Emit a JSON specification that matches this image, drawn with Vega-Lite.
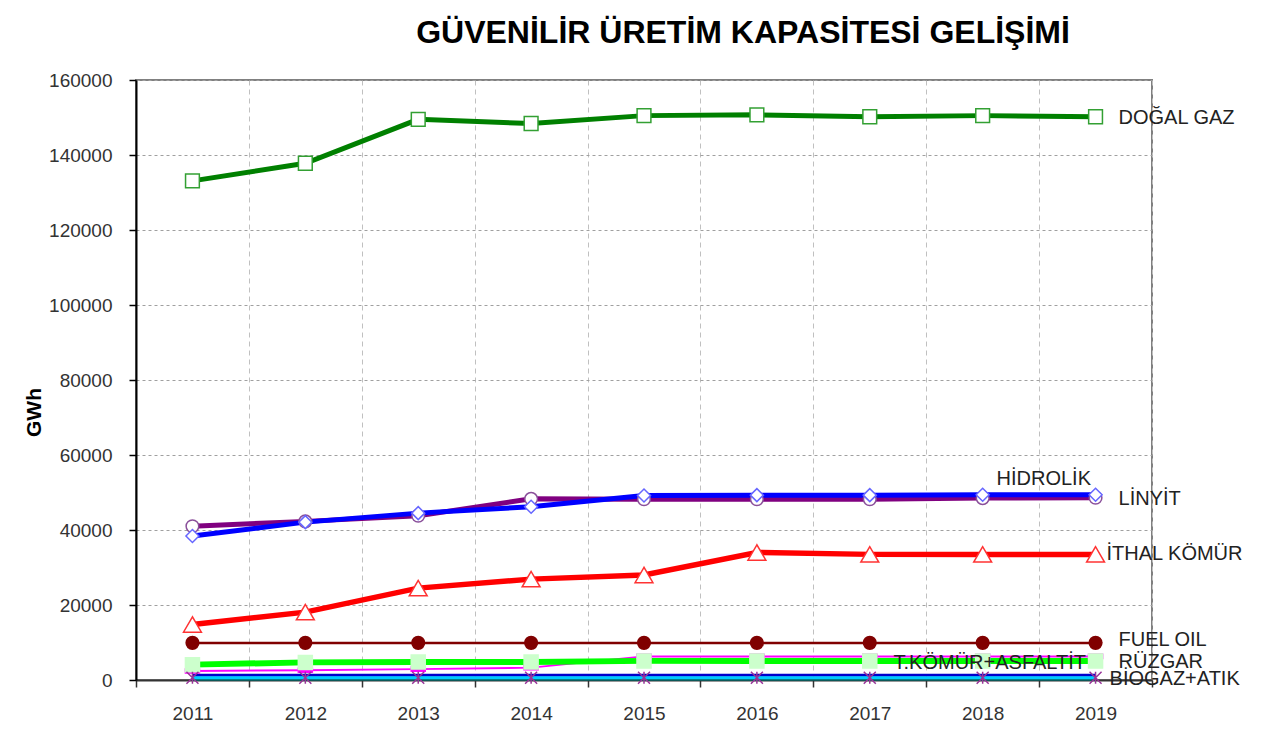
{
  "$schema": "https://vega.github.io/schema/vega-lite/v6.json",
  "width": 1016,
  "height": 600,
  "autosize": {"type": "none"},
  "padding": {"left": 136, "top": 80, "right": 111, "bottom": 73},
  "background": "white",
  "title": {
    "text": "GÜVENİLİR ÜRETİM KAPASİTESİ GELİŞİMİ",
    "font": "Liberation Sans",
    "fontSize": 32,
    "fontWeight": "bold",
    "color": "#000000",
    "anchor": "middle",
    "frame": "group",
    "dx": 99,
    "dy": 38,
    "offset": 34,
    "baseline": "alphabetic"
  },
  "config": {
    "font": "Liberation Sans",
    "view": {"stroke": "#808080", "strokeWidth": 2},
    "legend": {"disable": true}
  },
  "data": {
    "values": [
      {"year": 2011, "series": "FUEL OIL", "value": 9900},
      {"year": 2012, "series": "FUEL OIL", "value": 9900},
      {"year": 2013, "series": "FUEL OIL", "value": 9900},
      {"year": 2014, "series": "FUEL OIL", "value": 9900},
      {"year": 2015, "series": "FUEL OIL", "value": 9900},
      {"year": 2016, "series": "FUEL OIL", "value": 9900},
      {"year": 2017, "series": "FUEL OIL", "value": 9900},
      {"year": 2018, "series": "FUEL OIL", "value": 9900},
      {"year": 2019, "series": "FUEL OIL", "value": 9900},
      {"year": 2011, "series": "T.KÖMÜR+ASFALTİT", "value": 2400},
      {"year": 2012, "series": "T.KÖMÜR+ASFALTİT", "value": 2600},
      {"year": 2013, "series": "T.KÖMÜR+ASFALTİT", "value": 2900},
      {"year": 2014, "series": "T.KÖMÜR+ASFALTİT", "value": 3300},
      {"year": 2015, "series": "T.KÖMÜR+ASFALTİT", "value": 6300},
      {"year": 2016, "series": "T.KÖMÜR+ASFALTİT", "value": 6300},
      {"year": 2017, "series": "T.KÖMÜR+ASFALTİT", "value": 6300},
      {"year": 2018, "series": "T.KÖMÜR+ASFALTİT", "value": 6300},
      {"year": 2019, "series": "T.KÖMÜR+ASFALTİT", "value": 6300},
      {"year": 2011, "series": "RÜZGAR", "value": 4100},
      {"year": 2012, "series": "RÜZGAR", "value": 4700},
      {"year": 2013, "series": "RÜZGAR", "value": 4800},
      {"year": 2014, "series": "RÜZGAR", "value": 4800},
      {"year": 2015, "series": "RÜZGAR", "value": 5100},
      {"year": 2016, "series": "RÜZGAR", "value": 5100},
      {"year": 2017, "series": "RÜZGAR", "value": 5100},
      {"year": 2018, "series": "RÜZGAR", "value": 5100},
      {"year": 2019, "series": "RÜZGAR", "value": 5100},
      {"year": 2011, "series": "DİĞER", "value": 100},
      {"year": 2012, "series": "DİĞER", "value": 100},
      {"year": 2013, "series": "DİĞER", "value": 100},
      {"year": 2014, "series": "DİĞER", "value": 100},
      {"year": 2015, "series": "DİĞER", "value": 100},
      {"year": 2016, "series": "DİĞER", "value": 100},
      {"year": 2017, "series": "DİĞER", "value": 100},
      {"year": 2018, "series": "DİĞER", "value": 100},
      {"year": 2019, "series": "DİĞER", "value": 100},
      {"year": 2011, "series": "JEOTERMAL", "value": 1300},
      {"year": 2012, "series": "JEOTERMAL", "value": 1300},
      {"year": 2013, "series": "JEOTERMAL", "value": 1300},
      {"year": 2014, "series": "JEOTERMAL", "value": 1300},
      {"year": 2015, "series": "JEOTERMAL", "value": 1300},
      {"year": 2016, "series": "JEOTERMAL", "value": 1300},
      {"year": 2017, "series": "JEOTERMAL", "value": 1300},
      {"year": 2018, "series": "JEOTERMAL", "value": 1300},
      {"year": 2019, "series": "JEOTERMAL", "value": 1300},
      {"year": 2011, "series": "BİOGAZ+ATIK", "value": 600},
      {"year": 2012, "series": "BİOGAZ+ATIK", "value": 600},
      {"year": 2013, "series": "BİOGAZ+ATIK", "value": 600},
      {"year": 2014, "series": "BİOGAZ+ATIK", "value": 600},
      {"year": 2015, "series": "BİOGAZ+ATIK", "value": 600},
      {"year": 2016, "series": "BİOGAZ+ATIK", "value": 600},
      {"year": 2017, "series": "BİOGAZ+ATIK", "value": 600},
      {"year": 2018, "series": "BİOGAZ+ATIK", "value": 600},
      {"year": 2019, "series": "BİOGAZ+ATIK", "value": 600},
      {"year": 2011, "series": "İTHAL KÖMÜR", "value": 14800},
      {"year": 2012, "series": "İTHAL KÖMÜR", "value": 18100},
      {"year": 2013, "series": "İTHAL KÖMÜR", "value": 24500},
      {"year": 2014, "series": "İTHAL KÖMÜR", "value": 26900},
      {"year": 2015, "series": "İTHAL KÖMÜR", "value": 28000},
      {"year": 2016, "series": "İTHAL KÖMÜR", "value": 34000},
      {"year": 2017, "series": "İTHAL KÖMÜR", "value": 33500},
      {"year": 2018, "series": "İTHAL KÖMÜR", "value": 33500},
      {"year": 2019, "series": "İTHAL KÖMÜR", "value": 33500},
      {"year": 2011, "series": "LİNYİT", "value": 41000},
      {"year": 2012, "series": "LİNYİT", "value": 42300},
      {"year": 2013, "series": "LİNYİT", "value": 43800},
      {"year": 2014, "series": "LİNYİT", "value": 48300},
      {"year": 2015, "series": "LİNYİT", "value": 48200},
      {"year": 2016, "series": "LİNYİT", "value": 48200},
      {"year": 2017, "series": "LİNYİT", "value": 48200},
      {"year": 2018, "series": "LİNYİT", "value": 48500},
      {"year": 2019, "series": "LİNYİT", "value": 48600},
      {"year": 2011, "series": "HİDROLİK", "value": 38400},
      {"year": 2012, "series": "HİDROLİK", "value": 42100},
      {"year": 2013, "series": "HİDROLİK", "value": 44500},
      {"year": 2014, "series": "HİDROLİK", "value": 46200},
      {"year": 2015, "series": "HİDROLİK", "value": 49200},
      {"year": 2016, "series": "HİDROLİK", "value": 49300},
      {"year": 2017, "series": "HİDROLİK", "value": 49300},
      {"year": 2018, "series": "HİDROLİK", "value": 49400},
      {"year": 2019, "series": "HİDROLİK", "value": 49400},
      {"year": 2011, "series": "DOĞAL GAZ", "value": 133100},
      {"year": 2012, "series": "DOĞAL GAZ", "value": 137800},
      {"year": 2013, "series": "DOĞAL GAZ", "value": 149500},
      {"year": 2014, "series": "DOĞAL GAZ", "value": 148400},
      {"year": 2015, "series": "DOĞAL GAZ", "value": 150500},
      {"year": 2016, "series": "DOĞAL GAZ", "value": 150700},
      {"year": 2017, "series": "DOĞAL GAZ", "value": 150200},
      {"year": 2018, "series": "DOĞAL GAZ", "value": 150500},
      {"year": 2019, "series": "DOĞAL GAZ", "value": 150200}
    ]
  },
  "encoding": {
    "x": {
      "field": "year",
      "type": "ordinal",
      "scale": {"type": "band", "paddingInner": 0, "paddingOuter": 0},
      "axis": {
        "title": null,
        "labelAngle": 0,
        "labelFontSize": 19,
        "labelColor": "#333333",
        "labelPadding": 17,
        "tickBand": "extent",
        "tickSize": 7,
        "tickColor": "#333333",
        "tickWidth": 1.5,
        "domainColor": "#333333",
        "domainWidth": 2,
        "grid": true,
        "gridColor": "#c0c0c0",
        "gridDash": [5, 4],
        "gridWidth": 1
      }
    },
    "y": {
      "field": "value",
      "type": "quantitative",
      "scale": {"domain": [0, 160000], "nice": false},
      "axis": {
        "title": "GWh",
        "titleFontSize": 21,
        "titleFontWeight": "bold",
        "titleColor": "#000000",
        "titleY": 332,
        "titlePadding": 4,
        "values": [0, 20000, 40000, 60000, 80000, 100000, 120000, 140000, 160000],
        "format": "d",
        "labelFontSize": 19,
        "labelColor": "#333333",
        "labelPadding": 17,
        "tickSize": 7,
        "tickColor": "#000000",
        "tickWidth": 1.5,
        "domainColor": "#000000",
        "domainWidth": 2,
        "grid": true,
        "gridColor": "#a0a0a0",
        "gridDash": [3, 3],
        "gridWidth": 1
      }
    }
  },
  "layer": [
    {
      "mark": {"type": "line"},
      "encoding": {
        "color": {
          "field": "series",
          "type": "nominal",
          "scale": {
            "domain": ["FUEL OIL", "T.KÖMÜR+ASFALTİT", "RÜZGAR", "DİĞER", "JEOTERMAL", "BİOGAZ+ATIK", "İTHAL KÖMÜR", "LİNYİT", "HİDROLİK", "DOĞAL GAZ"],
            "range": ["#800000", "#ff00ff", "#00ff00", "#006666", "#0000cc", "#00ccff", "#ff0000", "#800080", "#0000ff", "#008000"]
          }
        },
        "strokeWidth": {
          "field": "series",
          "type": "nominal",
          "scale": {
            "type": "ordinal",
            "domain": ["FUEL OIL", "T.KÖMÜR+ASFALTİT", "RÜZGAR", "DİĞER", "JEOTERMAL", "BİOGAZ+ATIK", "İTHAL KÖMÜR", "LİNYİT", "HİDROLİK", "DOĞAL GAZ"],
            "range": [2.5, 2, 6, 2, 3, 3, 5.5, 5, 5, 5]
          }
        }
      }
    },
    {
      "mark": {"type": "point", "filled": true, "strokeWidth": 1.5, "opacity": 1},
      "encoding": {
        "shape": {
          "field": "series",
          "type": "nominal",
          "scale": {
            "domain": ["FUEL OIL", "T.KÖMÜR+ASFALTİT", "RÜZGAR", "DİĞER", "JEOTERMAL", "BİOGAZ+ATIK", "İTHAL KÖMÜR", "LİNYİT", "HİDROLİK", "DOĞAL GAZ"],
            "range": ["circle", "M-1,-0.3L1,-0.3L1,0.3L-1,0.3Z", "square", "circle", "circle", "M-1,-1L1,1M-1,1L1,-1M0,-1L0,1", "triangle-up", "circle", "diamond", "square"]
          }
        },
        "fill": {
          "field": "series",
          "type": "nominal",
          "scale": {
            "domain": ["FUEL OIL", "T.KÖMÜR+ASFALTİT", "RÜZGAR", "DİĞER", "JEOTERMAL", "BİOGAZ+ATIK", "İTHAL KÖMÜR", "LİNYİT", "HİDROLİK", "DOĞAL GAZ"],
            "range": ["#800000", "#ff00ff", "#ccffcc", "transparent", "transparent", "transparent", "#ffffff", "#ffffff", "#ffffff", "#ffffff"]
          }
        },
        "stroke": {
          "field": "series",
          "type": "nominal",
          "scale": {
            "domain": ["FUEL OIL", "T.KÖMÜR+ASFALTİT", "RÜZGAR", "DİĞER", "JEOTERMAL", "BİOGAZ+ATIK", "İTHAL KÖMÜR", "LİNYİT", "HİDROLİK", "DOĞAL GAZ"],
            "range": ["#800000", "#ff00ff", "#ccffcc", "transparent", "transparent", "#993399", "#ff3333", "#8a4f9a", "#6666ff", "#33a033"]
          }
        },
        "size": {
          "field": "series",
          "type": "nominal",
          "scale": {
            "type": "ordinal",
            "domain": ["FUEL OIL", "T.KÖMÜR+ASFALTİT", "RÜZGAR", "DİĞER", "JEOTERMAL", "BİOGAZ+ATIK", "İTHAL KÖMÜR", "LİNYİT", "HİDROLİK", "DOĞAL GAZ"],
            "range": [160, 196, 196, 0, 0, 144, 320, 160, 170, 190]
          }
        }
      }
    },
    {
      "transform": [{"filter": "datum.year == 2019 && (datum.series == 'DOĞAL GAZ' || datum.series == 'LİNYİT' || datum.series == 'RÜZGAR')"}],
      "mark": {"type": "text", "align": "left", "baseline": "middle", "dx": 23, "dy": 1, "fontSize": 20, "color": "#222222"},
      "encoding": {"text": {"field": "series"}}
    },
    {
      "transform": [{"filter": "datum.year == 2019 && datum.series == 'FUEL OIL'"}],
      "mark": {"type": "text", "align": "left", "baseline": "middle", "dx": 23, "dy": -3, "fontSize": 20, "color": "#222222"},
      "encoding": {"text": {"field": "series"}}
    },
    {
      "transform": [{"filter": "datum.year == 2019 && datum.series == 'İTHAL KÖMÜR'"}],
      "mark": {"type": "text", "align": "left", "baseline": "middle", "dx": 11, "dy": 0, "fontSize": 20, "color": "#222222"},
      "encoding": {"text": {"field": "series"}}
    },
    {
      "transform": [{"filter": "datum.year == 2019 && datum.series == 'HİDROLİK'"}],
      "mark": {"type": "text", "align": "left", "baseline": "middle", "dx": -99, "dy": -16, "fontSize": 20, "color": "#222222"},
      "encoding": {"text": {"field": "series"}}
    },
    {
      "transform": [{"filter": "datum.year == 2019 && datum.series == 'T.KÖMÜR+ASFALTİT'"}],
      "mark": {"type": "text", "align": "left", "baseline": "middle", "dx": -202, "dy": 7, "fontSize": 20, "color": "#222222"},
      "encoding": {"text": {"field": "series"}}
    },
    {
      "transform": [{"filter": "datum.year == 2019 && datum.series == 'BİOGAZ+ATIK'"}],
      "mark": {"type": "text", "align": "left", "baseline": "middle", "dx": 14, "dy": 1, "fontSize": 20, "color": "#222222"},
      "encoding": {"text": {"field": "series"}}
    }
  ],
  "resolve": {"scale": {"color": "independent", "fill": "independent", "stroke": "independent", "size": "independent", "shape": "independent", "strokeWidth": "independent"}}
}
